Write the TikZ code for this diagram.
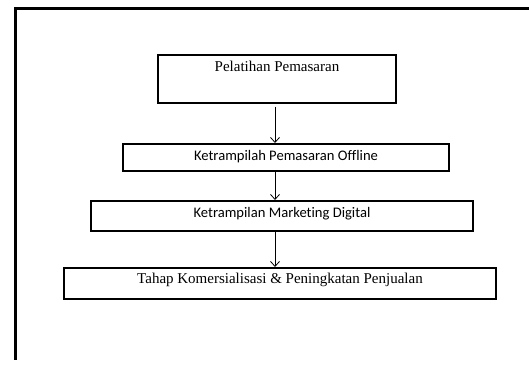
\documentclass[tikz,border=0pt]{standalone}
\usepackage{fontspec}
\setmainfont{Liberation Serif}
\newfontfamily\calibrifont[Ligatures=NoCommon]{Carlito}
\usetikzlibrary{positioning, arrows.meta}

\begin{document}
\begin{tikzpicture}[x=1pt, y=-1pt, >={Straight Barb[length=5pt,width=9pt]},
	stage/.style={draw, line width=1.6pt, inner sep=0pt, anchor=north},
	serifstage/.style={stage, font=\fontsize{15}{17}\selectfont},
	sansstage/.style={stage, font=\calibrifont\fontsize{14.6}{16}\selectfont}]
	
	\useasboundingbox (0,0) rectangle (529,372);
	
	% Outer frame (cut off right and bottom)
	\draw[line width=3pt] (529,8) -- (15,8) -- (15,360);
	
	% Stages
	\node[serifstage, minimum width=238pt, text height=17pt, text depth=31pt] (pelatihan) at (277,54) {Pelatihan Pemasaran};
	\node[sansstage, minimum width=326pt, text height=17pt, text depth=10pt] (offline) at (286,143) {Ketrampilah Pemasaran Offline};
	\node[sansstage, minimum width=382pt, text height=17pt, text depth=13pt] (digital) at (282,200) {Ketrampilan Marketing Digital};
	\node[serifstage, minimum width=432pt, text height=16pt, text depth=15pt] (komersial) at (280,267) {Tahap Komersialisasi \& Peningkatan Penjualan};
	
	% Arrows
	\coordinate (axis) at (275,0);
	\draw[->, line width=0.8pt] ([yshift=-3pt]pelatihan.south -| axis) -- (offline.north -| axis);
	\draw[->, line width=0.8pt] (offline.south -| axis) -- (digital.north -| axis);
	\draw[->, line width=0.8pt] (digital.south -| axis) -- (komersial.north -| axis);
	
\end{tikzpicture}
\end{document}
